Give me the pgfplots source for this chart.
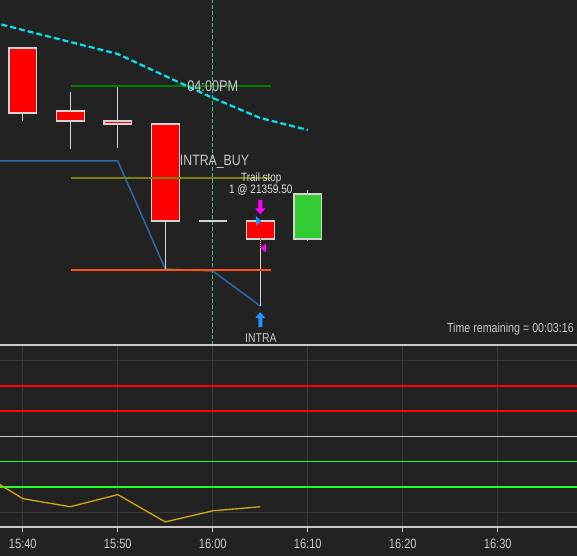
\documentclass[border=0pt]{standalone}
\usepackage{fontspec}
\setmainfont{Liberation Sans}[FakeStretch=0.82]
\usepackage{pgfplots}
\pgfplotsset{compat=1.18}
\definecolor{bgc}{HTML}{222222}
\definecolor{gridc}{HTML}{383838}
\definecolor{axc}{HTML}{C8C8C8}
\definecolor{labc}{HTML}{C8C8C8}
\definecolor{wick}{HTML}{D3D3D3}
\definecolor{candred}{HTML}{FF0000}
\definecolor{candgreen}{HTML}{32CD32}
\definecolor{cyanl}{HTML}{00E5F0}
\definecolor{dgreen}{HTML}{008000}
\definecolor{oliv}{HTML}{808000}
\definecolor{orng}{HTML}{FF5500}
\definecolor{bluel}{HTML}{2C6AAE}
\definecolor{vdash}{HTML}{22C888}
\definecolor{magn}{HTML}{FF00FF}
\definecolor{dblue}{HTML}{1E90FF}
\definecolor{yell}{HTML}{D4A800}
\definecolor{brgreen}{HTML}{22FF22}

\pgfdeclareplotmark{dnarrow}{%
 \pgfpathmoveto{\pgfpoint{-2bp}{7bp}}%
 \pgfpathlineto{\pgfpoint{2bp}{7bp}}%
 \pgfpathlineto{\pgfpoint{2bp}{-1.5bp}}%
 \pgfpathlineto{\pgfpoint{5bp}{-1.5bp}}%
 \pgfpathlineto{\pgfpoint{0bp}{-7.5bp}}%
 \pgfpathlineto{\pgfpoint{-5bp}{-1.5bp}}%
 \pgfpathlineto{\pgfpoint{-2bp}{-1.5bp}}%
 \pgfpathclose\pgfusepathqfill}
\pgfdeclareplotmark{uparrow}{%
 \pgfpathmoveto{\pgfpoint{0bp}{8bp}}%
 \pgfpathlineto{\pgfpoint{5bp}{2bp}}%
 \pgfpathlineto{\pgfpoint{2bp}{2bp}}%
 \pgfpathlineto{\pgfpoint{2bp}{-7bp}}%
 \pgfpathlineto{\pgfpoint{-2bp}{-7bp}}%
 \pgfpathlineto{\pgfpoint{-2bp}{2bp}}%
 \pgfpathlineto{\pgfpoint{-5bp}{2bp}}%
 \pgfpathclose\pgfusepathqfill}
\pgfdeclareplotmark{rtri}{%
 \pgfpathmoveto{\pgfpoint{-4.5bp}{5bp}}%
 \pgfpathlineto{\pgfpoint{1.2bp}{0bp}}%
 \pgfpathlineto{\pgfpoint{-4.5bp}{-5bp}}%
 \pgfpathclose\pgfusepathqfill}
\pgfdeclareplotmark{ltri}{%
 \pgfpathmoveto{\pgfpoint{0.5bp}{0bp}}%
 \pgfpathlineto{\pgfpoint{5.5bp}{4.5bp}}%
 \pgfpathlineto{\pgfpoint{5.5bp}{-4.5bp}}%
 \pgfpathclose\pgfusepathqfill}

\begin{document}
\begin{tikzpicture}
\fill[bgc] (0,0) rectangle (577bp,556bp);

% ---------------- top (price) panel ----------------
\begin{axis}[
  at={(0bp,211bp)}, anchor=south west,
  width=577bp, height=345bp, scale only axis,
  xmin=-2.4, xmax=58.34, ymin=21335.25, ymax=21421.5,
  hide axis,
]
% 16:00 marker
\addplot[vdash, line width=1bp, dash pattern=on 4bp off 2bp] coordinates {(20,21335.25) (20,21421.5)};
% blue stop line
\addplot[bluel, line width=1.5bp] coordinates {(-5,21381.25) (10,21381.25) (15,21354.25) (20,21353.75) (25,21345.0)};
% wicks
\addplot[wick, line width=1.2bp] coordinates {(0,21409.5) (0,21391.25)};
\addplot[wick, line width=1.2bp] coordinates {(5,21398.5) (5,21384.25)};
\addplot[wick, line width=1.2bp] coordinates {(10,21399.75) (10,21384.5)};
\addplot[wick, line width=1.2bp] coordinates {(15,21390.5) (15,21354.25)};
\addplot[wick, line width=1.2bp] coordinates {(25,21366.25) (25,21345.0)};
\addplot[wick, line width=1.2bp] coordinates {(30,21374.0) (30,21361.25)};
% bodies
\addplot[fill=candred, draw=wick, line width=1.4bp] coordinates {(-1.47,21409.5) (1.47,21409.5) (1.47,21393.25) (-1.47,21393.25)} -- cycle;
\addplot[fill=candred, draw=wick, line width=1.4bp] coordinates {(3.53,21393.75) (6.47,21393.75) (6.47,21391.25) (3.53,21391.25)} -- cycle;
\addplot[fill=candred, draw=wick, line width=1.4bp] coordinates {(8.53,21391.25) (11.47,21391.25) (11.47,21390.5) (8.53,21390.5)} -- cycle;
\addplot[fill=candred, draw=wick, line width=1.4bp] coordinates {(13.53,21390.5) (16.47,21390.5) (16.47,21366.25) (13.53,21366.25)} -- cycle;
\addplot[wick, line width=2bp] coordinates {(18.53,21366.25) (21.47,21366.25)};
\addplot[fill=candred, draw=wick, line width=1.4bp] coordinates {(23.53,21366.25) (26.47,21366.25) (26.47,21361.75) (23.53,21361.75)} -- cycle;
\addplot[fill=candgreen, draw=wick, line width=1.4bp] coordinates {(28.53,21373.0) (31.47,21373.0) (31.47,21361.75) (28.53,21361.75)} -- cycle;
% horizontal levels
\addplot[dgreen, line width=2bp] coordinates {(5.07,21400.0) (26.1,21400.0)};
\addplot[oliv, line width=2.6bp] coordinates {(5.07,21377.0) (26.1,21377.0)};
\addplot[orng, line width=2bp] coordinates {(5.07,21354.0) (26.1,21354.0)};
% cyan dashed average
\addplot[cyanl, line width=2.2bp, dash pattern=on 6bp off 3bp] coordinates {(-5,21417.05) (0,21414.0) (5,21411.0) (10,21408.0) (15,21402.5) (20,21397.0) (25,21392.0) (30,21389.0)};
% trade connector and markers
\addplot[candred, line width=1.2bp, densely dotted] coordinates {(25,21366.25) (25,21359.5)};
\addplot[only marks, mark=dnarrow, mark options={fill=magn, draw=none}] coordinates {(25,21369.75)};
\addplot[only marks, mark=uparrow, mark options={fill=dblue, draw=none}] coordinates {(25,21341.5)};
\addplot[only marks, mark=rtri, mark options={fill=dblue, draw=none}] coordinates {(25,21366.25)};
\addplot[only marks, mark=ltri, mark options={fill=magn, draw=none}] coordinates {(25,21359.5)};
% texts
\node[text=labc, font=\fontsize{15.5bp}{17bp}\selectfont, inner sep=0pt, anchor=center] at (axis cs:20,21400.0) {04:00PM};
\node[text=labc, font=\fontsize{15bp}{17bp}\selectfont, inner sep=0pt, anchor=base] at (axis cs:20.18,21380.1) {INTRA\_BUY};
\node[text=white!88!black, font=\fontsize{12bp}{14bp}\selectfont, inner sep=0pt, anchor=base] at (axis cs:25.1,21376.1) {Trail stop};
\node[text=white!88!black, font=\fontsize{12.3bp}{14bp}\selectfont, inner sep=0pt, anchor=base] at (axis cs:25.05,21373.2) {1 @ 21359.50};
\node[text=labc, font=\fontsize{12.8bp}{14bp}\selectfont, inner sep=0pt, anchor=base] at (axis cs:25.07,21335.9) {INTRA};
\node[text=labc, font=\fontsize{13bp}{15bp}\selectfont, inner sep=0pt, anchor=base east] at (axis cs:58.02,21338.25) {Time remaining = 00:03:16};
\end{axis}

% ---------------- bottom (indicator) panel ----------------
\begin{axis}[
  at={(0bp,29bp)}, anchor=south west,
  width=577bp, height=182bp, scale only axis,
  xmin=-2.4, xmax=58.34, ymin=4.2, ymax=76.1,
  axis line style={draw=none},
  xtick={0,10,20,30,40,50},
  xticklabels={15:40,15:50,16:00,16:10,16:20,16:30},
  ytick={10,20,30,40,50,60,70},
  yticklabels={},
  xmajorgrids, ymajorgrids,
  grid style={draw=gridc, line width=0.9bp},
  tick pos=left, tick align=outside,
  major tick length=5bp,
  xtick style={draw=axc, line width=1bp},
  ytick style={draw=none},
  xticklabel style={text=labc, font=\fontsize{13.5bp}{15bp}\selectfont, yshift=-4bp},
]
\addplot[candred, line width=2bp] coordinates {(-5,60) (65,60)};
\addplot[candred, line width=1.2bp] coordinates {(-5,50) (65,50)};
\addplot[axc, line width=1.1bp] coordinates {(-5,40) (65,40)};
\addplot[brgreen, line width=1.1bp] coordinates {(-5,30) (65,30)};
\addplot[brgreen, line width=2.2bp] coordinates {(-5,20) (65,20)};
\addplot[yell, line width=1.3bp] coordinates {(-5,26.9) (0,15.4) (5,12.2) (10,17.0) (15,6.2) (20,10.6) (25,12.2)};
\end{axis}
\draw[axc, line width=1.2bp] (0bp,211bp) -- (577bp,211bp);
\draw[axc, line width=1.2bp] (0bp,29bp) -- (577bp,29bp);
\pgfresetboundingbox
\path[use as bounding box] (0,0) rectangle (577bp,556bp);
\end{tikzpicture}
\end{document}
